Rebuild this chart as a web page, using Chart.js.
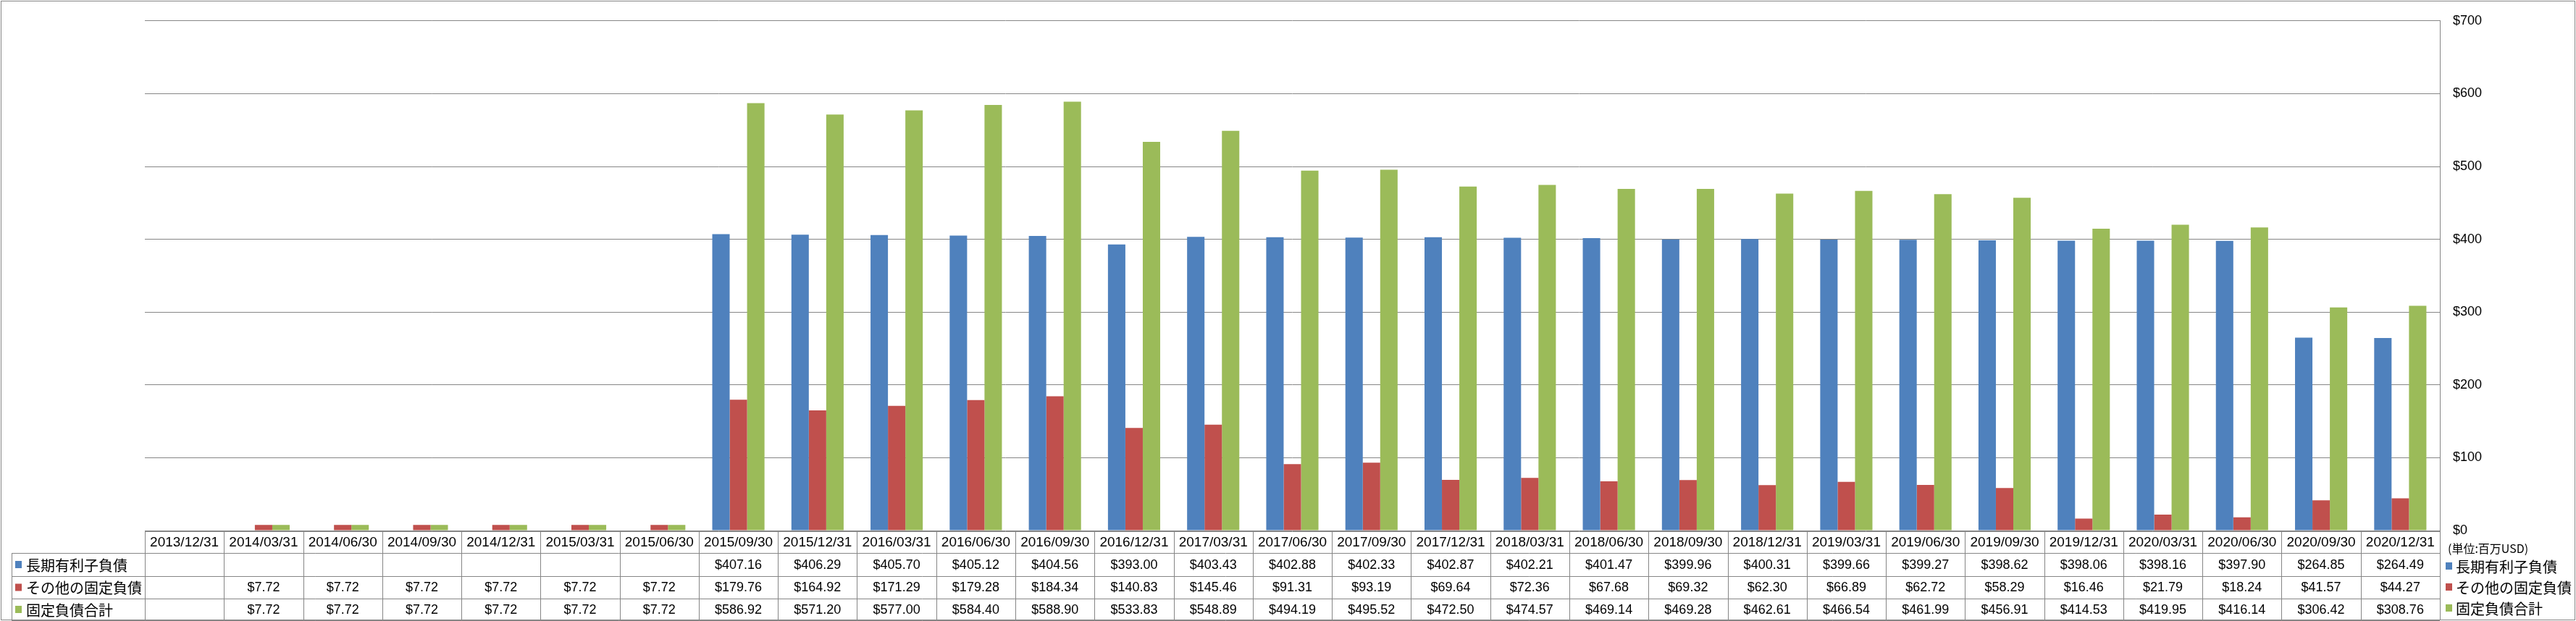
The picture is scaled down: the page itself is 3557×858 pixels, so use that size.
<!DOCTYPE html>
<html>
<head>
<meta charset="utf-8">
<script src="https://cdn.jsdelivr.net/npm/chart.js@4"></script>
<style>
  body { margin: 0; background: #fff; }
  canvas { display: block; }
</style>
</head>
<body>
<canvas id="chart" width="3557" height="858"></canvas>
<script>
const dates = ['2013/12/31', '2014/03/31', '2014/06/30', '2014/09/30', '2014/12/31', '2015/03/31', '2015/06/30',
    '2015/09/30', '2015/12/31', '2016/03/31', '2016/06/30', '2016/09/30', '2016/12/31', '2017/03/31', '2017/06/30',
    '2017/09/30', '2017/12/31', '2018/03/31', '2018/06/30', '2018/09/30', '2018/12/31', '2019/03/31', '2019/06/30',
    '2019/09/30', '2019/12/31', '2020/03/31', '2020/06/30', '2020/09/30', '2020/12/31'];

const longDebt = [null, null, null, null, null, null, null,
    407.16, 406.29, 405.70, 405.12, 404.56, 393.00, 403.43, 402.88, 402.33, 402.87, 402.21, 401.47, 399.96,
    400.31, 399.66, 399.27, 398.62, 398.06, 398.16, 397.90, 264.85, 264.49];

const otherFixed = [null, 7.72, 7.72, 7.72, 7.72, 7.72, 7.72,
    179.76, 164.92, 171.29, 179.28, 184.34, 140.83, 145.46, 91.31, 93.19, 69.64, 72.36, 67.68, 69.32,
    62.30, 66.89, 62.72, 58.29, 16.46, 21.79, 18.24, 41.57, 44.27];

const totalFixed = [null, 7.72, 7.72, 7.72, 7.72, 7.72, 7.72,
    586.92, 571.20, 577.00, 584.40, 588.90, 533.83, 548.89, 494.19, 495.52, 472.50, 474.57, 469.14, 469.28,
    462.61, 466.54, 461.99, 456.91, 414.53, 419.95, 416.14, 306.42, 308.76];

const seriesNames = ['長期有利子負債', 'その他の固定負債', '固定負債合計'];
const seriesColors = ['#4F81BD', '#C0504D', '#9BBB59'];
const unitLabel = '(単位:百万USD)';

const lineColor = '#868686';
const numFont = '18px "Liberation Sans", Arial, sans-serif';
const jpFont = '20px "Noto Sans CJK JP", sans-serif';

function fmt(v) {
    return v == null ? '' : '$' + v.toFixed(2);
}

const tablePlugin = {
    id: 'dataTable',
    afterDraw(chart) {
        const ctx = chart.ctx;
        const xs = chart.scales.x;
        const area = chart.chartArea;
        const n = dates.length;
        const colW = (area.right - area.left) / n;
        const top = area.bottom + 1;
        const rowH = [30, 32, 31, 30];
        const rowY = [top];
        for (let i = 0; i < rowH.length; i++) rowY.push(rowY[i] + rowH[i]);
        const labelLeft = 16;

        ctx.save();
        ctx.strokeStyle = lineColor;
        ctx.lineWidth = 1;

        // outer border
        ctx.strokeRect(1.5, 1.5, chart.width - 3, chart.height - 3);

        ctx.beginPath();
        ctx.moveTo(area.left, rowY[0] + 0.5);
        ctx.lineTo(area.right, rowY[0] + 0.5);
        for (let r = 1; r < rowY.length; r++) {
            ctx.moveTo(labelLeft, rowY[r] + 0.5);
            ctx.lineTo(area.right, rowY[r] + 0.5);
        }
        for (let i = 0; i <= n; i++) {
            const x = Math.round(area.left + i * colW) + 0.5;
            ctx.moveTo(x, rowY[0]);
            ctx.lineTo(x, rowY[4]);
        }
        ctx.moveTo(labelLeft + 0.5, rowY[1]);
        ctx.lineTo(labelLeft + 0.5, rowY[4]);
        ctx.stroke();

        ctx.fillStyle = '#000';
        ctx.textAlign = 'center';
        ctx.textBaseline = 'middle';
        ctx.font = '19px "Liberation Sans", Arial, sans-serif';
        dates.forEach((d, i) => {
            ctx.fillText(d, xs.getPixelForValue(i), rowY[0] + rowH[0] / 2 + 1);
        });

        ctx.font = numFont;
        const rows = [longDebt, otherFixed, totalFixed];
        rows.forEach((arr, r) => {
            const cy = rowY[r + 1] + rowH[r + 1] / 2 + 1;
            arr.forEach((v, i) => {
                ctx.fillText(fmt(v), xs.getPixelForValue(i), cy);
            });
        });

        // row labels
        ctx.textAlign = 'left';
        ctx.font = jpFont;
        seriesNames.forEach((name, r) => {
            const cy = rowY[r + 1] + rowH[r + 1] / 2;
            ctx.fillStyle = seriesColors[r];
            ctx.fillRect(21, cy - 5, 9, 10);
            ctx.fillStyle = '#000';
            ctx.fillText(name, 36, cy + 1);
        });

        // legend on the right
        const lx = area.right + 8;
        ctx.font = '16px "Noto Sans CJK JP", sans-serif';
        ctx.fillText(unitLabel, lx + 3, 758);
        ctx.font = jpFont;
        [782, 811, 840].forEach((cy, r) => {
            ctx.fillStyle = seriesColors[r];
            ctx.fillRect(lx, cy - 5, 9, 10);
            ctx.fillStyle = '#000';
            ctx.fillText(seriesNames[r], lx + 14, cy + 1);
        });
        ctx.restore();
    }
};

new Chart(document.getElementById('chart').getContext('2d'), {
    type: 'bar',
    data: {
        labels: dates,
        datasets: [
            { label: seriesNames[0], data: longDebt, backgroundColor: seriesColors[0] },
            { label: seriesNames[1], data: otherFixed, backgroundColor: seriesColors[1] },
            { label: seriesNames[2], data: totalFixed, backgroundColor: seriesColors[2] }
        ]
    },
    options: {
        responsive: false,
        animation: false,
        layout: { padding: { left: 200, top: 13, bottom: 125, right: 0 } },
        datasets: { bar: { categoryPercentage: 0.66, barPercentage: 1.0 } },
        plugins: {
            legend: { display: false },
            tooltip: { enabled: false }
        },
        scales: {
            x: { display: false },
            y: {
                position: 'right',
                min: 0,
                max: 700,
                ticks: {
                    stepSize: 100,
                    padding: 18,
                    color: '#000',
                    font: { family: '"Liberation Sans", Arial, sans-serif', size: 18 },
                    callback: v => '$' + v
                },
                grid: { color: lineColor, drawTicks: false },
                border: { display: true, color: lineColor },
                afterFit(scale) { scale.width = 188; }
            }
        }
    },
    plugins: [tablePlugin]
});
</script>
</body>
</html>
